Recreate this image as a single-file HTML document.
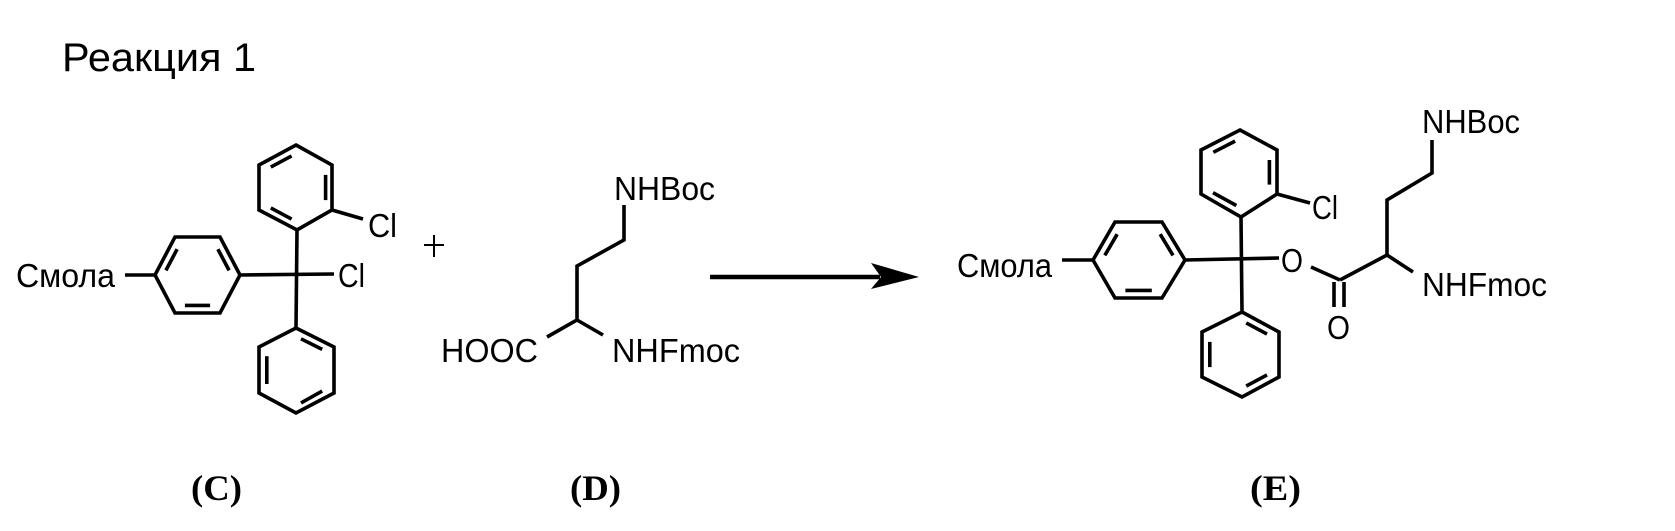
<!DOCTYPE html>
<html><head><meta charset="utf-8"><style>
html,body{margin:0;padding:0;background:#fff}
svg{display:block}
text{font-family:"Liberation Sans",Arial,sans-serif;fill:#000}
.lab{font-family:"Liberation Serif",serif;font-weight:bold}
</style></head><body>
<svg width="1675" height="531" viewBox="0 0 1675 531" xmlns="http://www.w3.org/2000/svg">
<g stroke="#000" stroke-width="3.6" fill="none" stroke-linejoin="miter" stroke-linecap="butt">
<!-- C -->
<line x1="125" y1="275" x2="155" y2="275"/>
<polygon points="155,275 175,237 220,237 240,275 220,313 175,313"/>
<line x1="165.9" y1="270.4" x2="177.1" y2="249.2"/>
<line x1="217.9" y1="249.2" x2="229.1" y2="270.4"/>
<line x1="210.1" y1="305.4" x2="184.9" y2="305.4"/>
<line x1="240" y1="275" x2="334" y2="274"/>
<line x1="297" y1="230" x2="296" y2="328"/>
<polygon points="296,145 332,165 332,210 297,230 259,210 259,165"/>
<line x1="270.8" y1="167.1" x2="291.6" y2="155.9"/>
<line x1="325.6" y1="174.9" x2="325.6" y2="200.1"/>
<line x1="270.8" y1="207.9" x2="291.6" y2="219.1"/>
<line x1="332" y1="210" x2="363" y2="219"/>
<polygon points="296,328 334,347 334,393 296,413 259,393 259,347"/>
<line x1="301" y1="338.8" x2="322.2" y2="349.4"/>
<line x1="322.2" y1="391.1" x2="301" y2="402.9"/>
<line x1="266.8" y1="384" x2="266.8" y2="356.2"/>
<!-- plus -->
<line x1="424" y1="245" x2="444" y2="245" stroke-width="2"/>
<line x1="434" y1="235" x2="434" y2="257" stroke-width="2"/>
<!-- D -->
<polyline points="624,205 624,240 577,266 577,320 547,337"/>
<line x1="577" y1="320" x2="603" y2="335"/>
<!-- arrow -->
<line x1="710" y1="277" x2="880" y2="277" stroke-width="4.5"/>
<!-- E -->
<line x1="1062" y1="260" x2="1093" y2="260"/>
<polygon points="1093,260 1115,222 1162,222 1185,260 1162,298 1115,298"/>
<line x1="1104.8" y1="255.4" x2="1117.2" y2="234.2"/>
<line x1="1160.2" y1="234.2" x2="1173" y2="255.4"/>
<line x1="1151.8" y1="290.4" x2="1125.4" y2="290.4"/>
<line x1="1185" y1="260" x2="1279" y2="258"/>
<line x1="1241" y1="217" x2="1242" y2="312"/>
<polygon points="1240,130 1277,150 1277,194 1241,217 1201,194 1201,150"/>
<line x1="1213.3" y1="152.3" x2="1235.1" y2="141.1"/>
<line x1="1269.4" y1="160" x2="1269.4" y2="184.6"/>
<line x1="1213" y1="192.7" x2="1236.3" y2="205.5"/>
<line x1="1277" y1="194" x2="1310" y2="203"/>
<polygon points="1242,312 1279,332 1279,377 1242,397 1202,377 1202,332"/>
<line x1="1246.2" y1="322.9" x2="1267" y2="334.1"/>
<line x1="1267" y1="374.9" x2="1246.2" y2="386.1"/>
<line x1="1209.8" y1="367.1" x2="1209.8" y2="341.9"/>
<line x1="1311" y1="267" x2="1340" y2="280"/>
<line x1="1334" y1="282" x2="1334" y2="307"/>
<line x1="1344" y1="282" x2="1344" y2="307"/>
<polyline points="1340,280 1387,255 1387,200 1432,173 1432,140"/>
<line x1="1387" y1="255" x2="1413" y2="272"/>
</g>
<polygon points="919,277 871,263 881,277 871,289" fill="#000"/>
<text x="62" y="71" font-size="40" textLength="194" lengthAdjust="spacingAndGlyphs">Реакция 1</text>
<g font-size="33">
<text x="16" y="287" textLength="99" lengthAdjust="spacingAndGlyphs">Смола</text>
<text x="338" y="287" textLength="27" lengthAdjust="spacingAndGlyphs">Cl</text>
<text x="368" y="237" textLength="29" lengthAdjust="spacingAndGlyphs">Cl</text>
<text x="614" y="200" textLength="101" lengthAdjust="spacingAndGlyphs">NHBoc</text>
<text x="441" y="362" textLength="97" lengthAdjust="spacingAndGlyphs">HOOC</text>
<text x="612" y="362" textLength="128" lengthAdjust="spacingAndGlyphs">NHFmoc</text>
<text x="957" y="277" textLength="95" lengthAdjust="spacingAndGlyphs">Смола</text>
<text x="1281" y="272" textLength="22" lengthAdjust="spacingAndGlyphs">O</text>
<text x="1312" y="219" textLength="26" lengthAdjust="spacingAndGlyphs">Cl</text>
<text x="1327" y="339" textLength="23" lengthAdjust="spacingAndGlyphs">O</text>
<text x="1422" y="133" textLength="98" lengthAdjust="spacingAndGlyphs">NHBoc</text>
<text x="1422" y="296" textLength="125" lengthAdjust="spacingAndGlyphs">NHFmoc</text>
</g>
<g font-size="36">
<text class="lab" x="191" y="500" textLength="51" lengthAdjust="spacingAndGlyphs">(C)</text>
<text class="lab" x="570" y="500" textLength="51" lengthAdjust="spacingAndGlyphs">(D)</text>
<text class="lab" x="1250" y="500" textLength="51" lengthAdjust="spacingAndGlyphs">(E)</text>
</g>
</svg>
</body></html>
